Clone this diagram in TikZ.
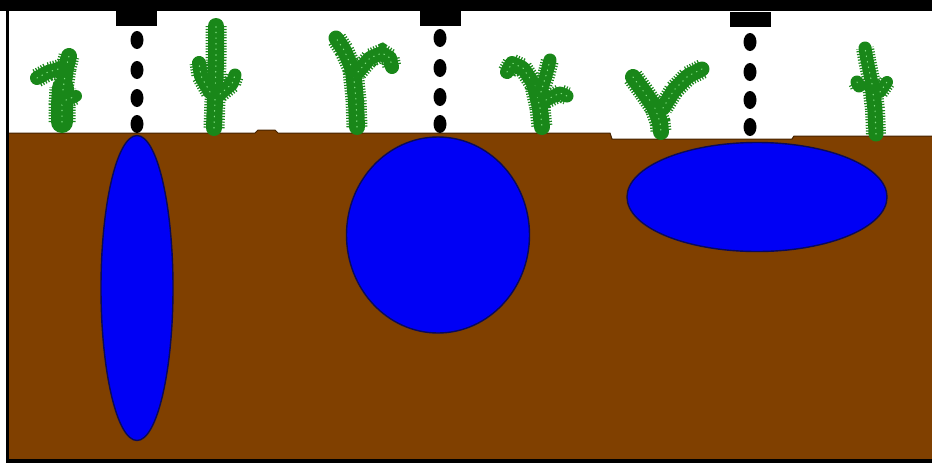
\documentclass[tikz,border=0pt]{standalone}
\usetikzlibrary{shapes.geometric}
\definecolor{soil}{RGB}{128,64,0}
\definecolor{soiledge}{RGB}{70,35,0}
\definecolor{water}{RGB}{0,0,245}
\definecolor{waterline}{RGB}{10,10,90}
\definecolor{leaf}{RGB}{25,135,25}
\definecolor{leaflight}{RGB}{130,225,130}
% a plant limb: fringed outer stroke, solid core, light speckles
\newcommand\sprout[2][18pt]{%
  \draw[leaf,line width=#1+5pt,dash pattern=on 1.2pt off 1.6pt] #2;
  \draw[plant,line width=#1] #2;
  \draw[speck] #2;}
\begin{document}
\begin{tikzpicture}[x=1pt,y=-1pt,
  dripper/.style={fill=black,minimum width=41pt,minimum height=15pt,inner sep=0pt},
  drop/.style={ellipse,fill=black,minimum width=13pt,minimum height=18pt,inner sep=0pt},
  bulb/.style={ellipse,draw=waterline,line width=1.4pt,fill=water,inner sep=0pt},
  plant/.style={leaf,line cap=round,line join=round},
  speck/.style={leaflight,line width=1.1pt,dash pattern=on 0.6pt off 5pt,line cap=round}
]
\useasboundingbox (0,0) rectangle (932,467);
\fill[white] (0,0) rectangle (932,467);

% soil
\fill[soil] (8,133) -- (255,133) -- (258,130) -- (275,130) -- (278,133) -- (610,133)
  -- (612,139) -- (792,139) -- (794,136) -- (932,136) -- (932,460) -- (8,460) -- cycle;
\draw[soiledge,line width=1pt] (8,133) -- (255,133) -- (258,130) -- (275,130) -- (278,133)
  -- (610,133) -- (612,139) -- (792,139) -- (794,136) -- (932,136);

% frame: supply line on top, left and bottom edges
\fill[black] (0,0) rectangle (932,11);
\fill[black] (6,0) rectangle (9,463);
\fill[black] (6,459) rectangle (932,463);

% emitters
\node[dripper] (e1) at (136.5,18) {};
\node[dripper] (e2) at (440.5,18.5) {};
\node[dripper] (e3) at (750,19) {};

% drops under each emitter
\foreach \i/\yy in {1/40,2/70,3/98,4/124}
  \node[drop] (a\i) at (137,\yy) {};
\foreach \i/\yy in {1/38,2/68,3/97,4/124}
  \node[drop] (b\i) at (440,\yy) {};
\foreach \i/\yy in {1/42,2/72,3/100,4/127}
  \node[drop] (c\i) at (750,\yy) {};

% wetted soil volumes
\node[bulb,minimum width=72pt,minimum height=305pt] (w1) at (137,288) {};
\node[bulb,minimum width=183pt,minimum height=196pt] (w2) at (438,235) {};
\node[bulb,minimum width=260pt,minimum height=109pt] (w3) at (757,197) {};

% plants
\sprout[22pt]{(62,122) -- (62,105) -- (63,88)}
\sprout[16pt]{(63,90) -- (66,68) -- (69,56)}
\sprout[14pt]{(37,78) -- (48,72) -- (62,68)}
\sprout[12pt]{(66,100) -- (76,96)}

\sprout[16pt]{(214,128) -- (215,100) -- (216,60) -- (216,26)}
\sprout[14pt]{(210,92) -- (201,76) -- (199,63)}
\sprout[13pt]{(220,94) -- (232,84) -- (235,75)}

\sprout[16pt]{(357,127) -- (356,100) -- (353,70)}
\sprout[15pt]{(353,70) -- (344,50) -- (336,38)}
\sprout[14pt]{(358,72) -- (370,58) -- (382,53) -- (390,58) -- (392,67)}

\sprout[14pt]{(507,72) -- (512,63) -- (523,68) -- (535,86)}
\sprout[16pt]{(535,86) -- (540,108) -- (542,127)}
\sprout[13pt]{(541,92) -- (547,72) -- (550,60)}
\sprout[13pt]{(546,100) -- (560,93) -- (567,96)}

\sprout[16pt]{(633,77) -- (644,92) -- (655,108)}
\sprout[16pt]{(655,108) -- (660,122) -- (661,132)}
\sprout[15pt]{(702,69) -- (688,76) -- (674,90) -- (663,108)}

\sprout[15pt]{(876,134) -- (875,110) -- (872,84)}
\sprout[13pt]{(872,84) -- (867,60) -- (865,48)}
\sprout[13pt]{(857,82) -- (859,86)}
\sprout[12pt]{(880,92) -- (887,82)}
\end{tikzpicture}
\end{document}
